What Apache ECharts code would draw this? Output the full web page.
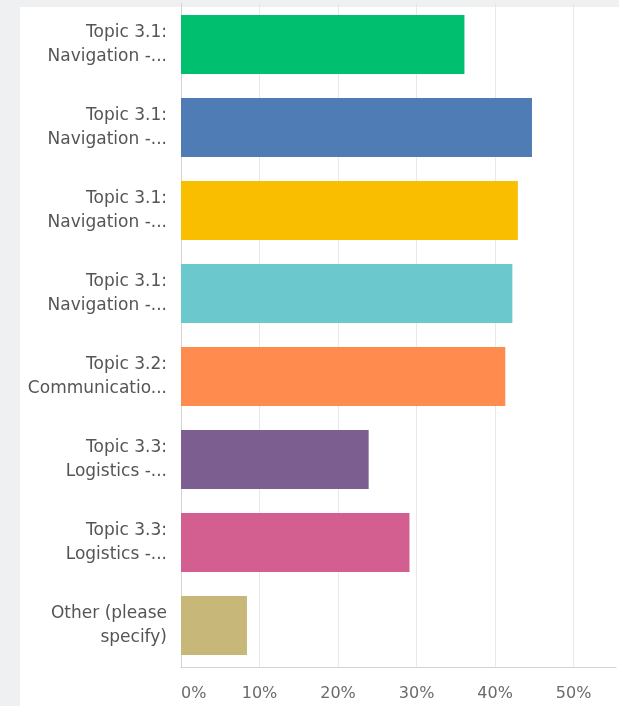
<!DOCTYPE html>
<html>
<head>
<meta charset="utf-8">
<script src="https://cdn.jsdelivr.net/npm/echarts@6/dist/echarts.min.js"></script>
<style>
  html, body { margin: 0; padding: 0; background: #eef0f2; }
  #chart { width: 619px; height: 706px; }
</style>
</head>
<body>
<div id="chart"></div>
<script>
// answer options (labels already truncated as in the survey tool)
const categories = [
  'Topic 3.1:\nNavigation -...',
  'Topic 3.1:\nNavigation -...',
  'Topic 3.1:\nNavigation -...',
  'Topic 3.1:\nNavigation -...',
  'Topic 3.2:\nCommunicatio...',
  'Topic 3.3:\nLogistics -...',
  'Topic 3.3:\nLogistics -...',
  'Other (please\nspecify)'
];
const percentages = [36.1, 44.7, 42.9, 42.2, 41.3, 23.9, 29.1, 8.4];
const barColors = ['#00bf6f', '#507cb6', '#f9be00', '#6bc8cd', '#ff8b4f', '#7d5e90', '#d25f90', '#c7b879'];
const xTicks = [0, 10, 20, 30, 40, 50];
const xMax = 55.4; // screenshot is cropped a bit past 50%

const myChart = echarts.init(document.getElementById('chart'));

const option = {
  animation: false,
  graphic: [{
    type: 'rect',
    z: -10,
    shape: { x: 20, y: 7, width: 599, height: 699 },
    style: { fill: '#ffffff' }
  }],
  grid: {
    left: 181,
    right: 0,
    top: 3,
    bottom: 39
  },
  xAxis: {
    type: 'value',
    min: xTicks[0],
    max: xMax,
    interval: 10,
    axisLine: { show: true, lineStyle: { color: '#d4d4d4' } },
    axisTick: { show: false },
    axisLabel: {
      color: '#6a6a6a',
      fontSize: 16,
      fontFamily: 'DejaVu Sans',
      margin: 19,
      alignMinLabel: 'left',
      formatter: v => (xTicks.indexOf(v) >= 0 ? v + '%' : '')
    },
    splitLine: { showMaxLine: false, lineStyle: { color: '#e8e8e8', width: 1 } }
  },
  yAxis: {
    type: 'category',
    inverse: true,
    data: categories,
    axisLine: { show: true, lineStyle: { color: '#d4d4d4' } },
    axisTick: { show: false },
    axisLabel: {
      color: '#555',
      fontSize: 17,
      fontFamily: 'DejaVu Sans',
      lineHeight: 24,
      align: 'right',
      margin: 14
    }
  },
  series: [{
    type: 'bar',
    data: percentages.map((v, i) => ({ value: v, itemStyle: { color: barColors[i] } })),
    barWidth: '71%'
  }]
};

myChart.setOption(option);
</script>
</body>
</html>
